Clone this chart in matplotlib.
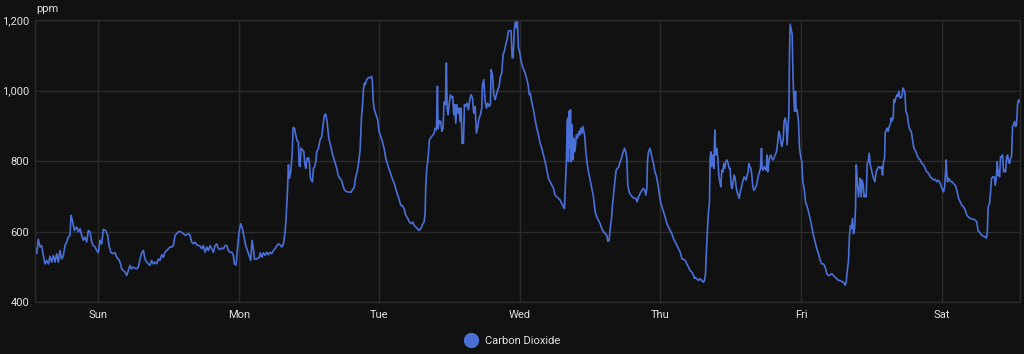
import matplotlib
matplotlib.use("Agg")
import matplotlib.pyplot as plt

# hours since Sunday 00:00, CO2 in ppm
hours = [
    -10.82, -10.53, -10.25, -9.97, -9.68, -9.40, -9.11, -8.83, -8.54, -8.26,
    -7.97, -7.69, -7.40, -7.12, -6.83, -6.55, -6.27, -5.98, -5.70, -5.41,
    -5.13, -4.84, -4.67, -4.44, -4.10, -3.70, -3.42, -3.13, -2.85, -2.56,
    -2.28, -1.99, -1.71, -1.42, -1.14, -0.86, -0.57, -0.29, 0.00, 0.28,
    0.57, 0.85, 1.25, 1.59, 1.82, 2.16, 2.56, 2.85, 3.13, 3.42,
    3.70, 3.99, 4.27, 4.56, 4.84, 5.12, 5.41, 5.69, 5.98, 6.26,
    6.55, 6.83, 7.12, 7.40, 7.69, 7.97, 8.26, 8.54, 8.82, 9.11,
    9.39, 9.68, 9.96, 10.25, 10.53, 10.82, 11.10, 11.39, 11.67, 11.96,
    12.24, 12.53, 12.81, 13.10, 13.38, 13.67, 13.95, 14.23, 14.52, 14.80,
    15.09, 15.37, 15.66, 15.94, 16.23, 16.51, 16.80, 17.08, 17.37,
    # Sun evening / Mon
    17.65, 17.94, 18.22, 18.51, 18.79, 19.08, 19.36, 19.65, 19.93, 20.22,
    20.50, 20.79, 21.07, 21.36, 21.64, 21.93, 22.21, 22.49, 22.78, 23.06,
    23.23, 23.52, 23.75, 24.03, 24.32, 24.60, 24.89, 25.17, 25.46, 25.74,
    26.03, 26.25, 26.48, 26.65, 27.05, 27.50, 27.62, 27.90, 28.19, 28.47,
    28.76, 29.04, 29.33, 29.61, 29.90, 30.18, 30.47, 30.75, 31.04, 31.32,
    31.61, 31.89, 32.06, 32.29, 32.46, 32.63, 32.86, 33.09, 33.26, 33.49,
    33.71, 33.94, 34.17, 34.28, 34.45, 34.62, 34.85, 35.08, 35.25, 35.42,
    35.65, 35.88, 36.05, 36.22, 36.39, 36.56, 36.73, 36.96, 37.13, 37.30,
    37.58, 37.87, 38.15, 38.38, 38.61, 38.84, 39.06, 39.35, 39.69, 40.03,
    40.37, 40.72, 40.94, 41.17, 41.51, 41.74, 41.97, 42.25, 42.71, 43.11,
    43.33, 43.68, 43.90, 44.19, 44.47, 44.70, 44.93, 45.10, 45.27, 45.44,
    # Tue
    45.55, 45.83, 46.12, 46.40, 46.69, 46.80, 46.92, 47.14, 47.43, 47.71,
    47.94, 48.23, 48.51, 48.80, 49.08, 49.42, 49.71, 49.99, 50.28, 50.56,
    50.85, 51.13, 51.41, 51.64, 51.93, 52.21, 52.50, 52.84, 53.12, 53.41,
    53.69, 53.92, 54.20, 54.49, 54.77, 55.06, 55.34, 55.63, 55.80, 55.91,
    56.08, 56.25, 56.37, 56.54, 56.77, 57.05, 57.34, 57.51, 57.74, 57.91,
    58.02, 58.25, 58.48, 58.65, 58.87, 59.04, 59.27, 59.44, 59.56, 59.73,
    59.90, 60.13, 60.35, 60.52, 60.70, 60.87, 61.04, 61.21, 61.44, 61.61,
    61.78, 61.95, 62.12, 62.35, 62.52, 62.75, 62.97, 63.20, 63.43, 63.66,
    63.88, 64.11, 64.34, 64.57, 64.80, 65.02, 65.25, 65.48, 65.59, 65.82,
    66.05, 66.28, 66.50, 66.73, 66.96, 67.07, 67.30, 67.53, 67.76, 67.98,
    68.21, 68.44, 68.67, 68.90, 69.12, 69.35, 69.58, 69.81, 70.03, 70.26,
    70.49, 70.66, 70.83, 71.06, 71.23, 71.40, 71.57, 71.74, 71.97, 72.20,
    72.42, 72.65, 72.88, 73.11, 73.34, 73.62,
    # Wed
    73.74, 74.02, 74.31, 74.59, 74.88, 75.16, 75.45, 75.73, 76.02, 76.30,
    76.59, 76.87, 77.16, 77.44, 77.73, 78.01, 78.30, 78.58, 78.86, 79.15,
    79.43, 79.60, 79.78, 79.95, 80.06, 80.17, 80.29, 80.40, 80.52, 80.63,
    80.74, 80.86, 80.97, 81.08, 81.20, 81.31, 81.48, 81.65, 81.83, 82.05,
    82.22, 82.39, 82.57, 82.74, 82.91, 83.08, 83.25, 83.48, 83.70, 83.99,
    84.27, 84.56, 84.84, 85.13, 85.41, 85.70, 85.98, 86.27, 86.55, 86.84,
    87.01, 87.23, 87.41, 87.63, 87.80, 87.97, 88.20, 88.43, 88.66, 88.89,
    89.11, 89.34, 89.57, 89.85, 90.08, 90.25, 90.42, 90.65, 90.94, 91.22,
    91.51, 91.79, 92.02, 92.25, 92.53, 92.82, 93.10, 93.33, 93.50, 93.67,
    93.78, 93.95, 94.18, 94.35, 94.58, 94.81, 95.04, 95.26, 95.49, 95.72,
    95.95, 96.23, 96.52, 96.80, 97.09, 97.37, 97.65, 97.94, 98.22, 98.51,
    98.79, 99.08, 99.36, 99.65, 99.93, 100.22, 100.50, 100.79, 101.07, 101.36,
    101.64, 101.81,
    # Thu
    101.92, 102.20, 102.49, 102.77, 103.06, 103.34, 103.51, 103.69, 103.86, 104.03,
    104.20, 104.37, 104.48, 104.60, 104.77, 104.94, 105.11, 105.28, 105.45, 105.62,
    105.79, 105.96, 106.13, 106.30, 106.48, 106.65, 106.82, 106.99, 107.16, 107.33,
    107.56, 107.73, 107.90, 108.07, 108.24, 108.41, 108.58, 108.75, 108.92, 109.09,
    109.27, 109.44, 109.61, 109.78, 109.95, 110.12, 110.29, 110.46, 110.63, 110.80,
    110.97, 111.09, 111.26, 111.43, 111.60, 111.77, 111.94, 112.17, 112.40, 112.57,
    112.74, 112.91, 113.08, 113.25, 113.36, 113.54, 113.71, 113.88, 114.05, 114.22,
    114.33, 114.50, 114.67, 114.85, 115.02, 115.19, 115.36, 115.59, 115.81, 116.04,
    116.21, 116.38, 116.55, 116.72, 116.95, 117.12, 117.29, 117.46, 117.63, 117.81,
    117.92, 118.03, 118.15, 118.32, 118.49, 118.60, 118.72, 118.89, 119.06, 119.17,
    119.34, 119.57, 119.74, 119.91, 120.14, 120.31, 120.54, 120.77, 120.99, 121.28,
    121.56, 121.85, 122.13, 122.42, 122.70, 122.99, 123.27, 123.56, 123.84, 124.13,
    124.41, 124.70, 124.98, 125.27, 125.55, 125.84, 126.12, 126.40, 126.69, 126.97,
    127.26, 127.54, 127.71, 127.88, 128.11, 128.28, 128.45, 128.62, 128.79, 128.97,
    129.14, 129.31, 129.42, 129.54, 129.65, 129.82, 129.99,
    # Fri / Sat
    130.11, 130.28, 130.45, 130.62, 130.79, 130.96, 131.13, 131.31, 131.48, 131.65,
    131.82, 131.99, 132.16, 132.39, 132.62, 132.84, 133.07, 133.30, 133.53, 133.75,
    133.92, 134.10, 134.27, 134.38, 134.55, 134.72, 134.89, 135.06, 135.23, 135.41,
    135.58, 135.75, 135.86, 136.03, 136.20, 136.37, 136.54, 136.71, 136.89, 137.06,
    137.23, 137.40, 137.57, 137.74, 137.91, 138.14, 138.37, 138.59, 138.82, 139.05,
    139.28, 139.51, 139.79, 140.07, 140.36, 140.64, 140.93, 141.21, 141.50, 141.78,
    142.07, 142.35, 142.64, 142.92, 143.21, 143.49, 143.78, 144.06, 144.35, 144.52,
    144.69, 144.80, 144.91, 145.03, 145.20, 145.37, 145.60, 145.83, 146.05, 146.34,
    146.62, 146.91, 147.19, 147.48, 147.76, 148.05, 148.33, 148.62, 148.90, 149.19,
    149.47, 149.75, 150.04, 150.21, 150.44, 150.67, 150.89, 151.18, 151.46, 151.63,
    151.80, 151.97, 152.20, 152.37, 152.54, 152.77, 153.00, 153.17, 153.34, 153.51,
    153.63, 153.74, 153.91, 154.08, 154.25, 154.42, 154.59, 154.76, 154.94, 155.11,
    155.28, 155.45, 155.62, 155.79, 155.96, 156.13, 156.30, 156.47, 156.64, 156.81,
    156.98, 157.16, 157.27,
]

co2_ppm = [
    560, 537, 578, 556, 560, 532, 508, 518, 508, 530,
    513, 532, 513, 537, 513, 546, 522, 532, 560, 570,
    584, 589, 646, 632, 603, 613, 599, 608, 589, 575,
    584, 570, 603, 599, 570, 560, 556, 546, 540, 575,
    565, 606, 603, 589, 560, 540, 537, 540, 527, 522,
    513, 494, 489, 485, 475, 489, 504, 494, 499, 496,
    494, 499, 522, 540, 546, 522, 513, 508, 504, 518,
    508, 513, 508, 522, 518, 534, 527, 542, 546, 551,
    556, 556, 560, 589, 594, 599, 600, 597, 594, 589,
    591, 594, 589, 570, 565, 570, 562, 560, 559,
    551, 560, 541, 556, 546, 560, 551, 541, 560, 565,
    551, 549, 553, 551, 560, 560, 546, 541, 541, 532,
    508, 505, 551, 599, 622, 608, 584, 560, 546, 532,
    518, 575, 551, 522, 522, 527, 540, 527, 540, 532,
    541, 534, 541, 537, 546, 551, 559, 565, 562, 556,
    565, 599, 637, 712, 789, 751, 770, 817, 895, 893,
    874, 857, 855, 789, 784, 836, 831, 828, 793, 779,
    808, 809, 793, 751, 746, 741, 779, 784, 798, 826,
    836, 860, 869, 903, 931, 933, 912, 865, 841, 817,
    798, 779, 760, 752, 746, 733, 720, 714, 712, 711,
    717, 724, 751, 768, 798, 831, 922, 955, 1002, 1021,
    1016, 1031, 1037, 1036, 1040, 1026, 974, 945, 931, 917,
    884, 869, 855, 836, 808, 789, 774, 760, 746, 736,
    717, 703, 689, 674, 673, 665, 646, 637, 627, 622,
    627, 618, 613, 608, 603, 608, 619, 627, 651, 722,
    779, 798, 822, 860, 866, 872, 879, 893, 888, 1012,
    893, 914, 912, 884, 893, 967, 960, 1078, 950, 931,
    960, 988, 979, 983, 931, 960, 907, 960, 936, 950,
    912, 950, 850, 850, 960, 955, 964, 945, 974, 988,
    979, 936, 955, 879, 898, 922, 931, 950, 1016, 1031,
    969, 950, 964, 955, 960, 1059, 1045, 988, 974, 988,
    1002, 1012, 1040, 1050, 1102, 1112, 1131, 1145, 1169, 1170,
    1169, 1093, 1093, 1178, 1195, 1178, 1195, 1121, 1107, 1083,
    1069, 1059, 1050, 1036, 1021, 988,
    993, 967, 945, 917, 893, 874, 850, 836, 817, 798,
    774, 751, 741, 731, 722, 703, 698, 694, 689, 679,
    670, 665, 741, 808, 912, 922, 798, 941, 836, 945,
    798, 903, 826, 803, 865, 826, 841, 874, 865, 884,
    874, 893, 879, 898, 884, 869, 826, 793, 769, 746,
    722, 698, 656, 641, 632, 622, 608, 599, 594, 589,
    572, 575, 608, 637, 674, 703, 741, 774, 779, 784,
    798, 808, 822, 836, 826, 808, 731, 712, 703, 698,
    694, 694, 684, 698, 708, 717, 722, 717, 703, 722,
    798, 826, 836, 826, 808, 793, 769, 760, 741, 717,
    689, 670, 656, 641, 622, 613, 603, 594, 580, 570,
    561, 551, 542, 523, 521, 518, 508, 499, 489, 485,
    475, 467,
    470, 466, 461, 466, 461, 456, 461, 480, 551, 608,
    656, 684, 808, 826, 784, 817, 779, 888, 817, 836,
    808, 760, 741, 727, 774, 769, 793, 779, 798, 803,
    793, 779, 779, 731, 722, 741, 760, 751, 727, 712,
    703, 694, 712, 722, 736, 746, 755, 751, 746, 760,
    769, 793, 784, 779, 760, 727, 717, 722, 731, 746,
    760, 769, 779, 836, 779, 774, 784, 779, 774, 817,
    769, 798, 812, 817, 808, 803, 808, 817, 826, 855,
    884, 874, 855, 841, 860, 912, 922, 907, 846, 903,
    931, 1102, 1188, 1173, 1159, 1064, 998, 941, 998, 941,
    945, 912, 836, 817, 798, 741, 722, 684, 674, 656,
    637, 613, 589, 570, 551, 537, 518, 508, 508, 499,
    480, 475, 477, 480, 475, 470, 466, 461, 461, 458,
    456, 448, 456, 485, 518, 589, 617, 608, 637, 594,
    608, 665, 789, 770, 731, 698, 727,
    751, 698, 746, 731, 698, 703, 698, 793, 798, 822,
    789, 779, 765, 751, 741, 769, 779, 784, 779, 784,
    760, 798, 808, 879, 888, 893, 884, 898, 903, 922,
    914, 922, 974, 967, 979, 988, 983, 998, 979, 979,
    983, 1007, 1002, 993, 941, 931, 903, 888, 884, 860,
    836, 831, 817, 808, 803, 793, 789, 779, 769, 765,
    755, 751, 746, 748, 741, 746, 736, 722, 712, 727,
    769, 803, 760, 741, 751, 746, 741, 741, 736, 731,
    717, 694, 684, 674, 670, 660, 646, 641, 637, 635,
    635, 632, 627, 603, 599, 594, 589, 587, 584, 581,
    594, 670, 679, 712, 751, 755, 755, 731, 751, 798,
    760, 774, 755, 812, 812, 817, 769, 774, 769, 812,
    817, 798, 793, 808, 812, 898, 903, 912, 898, 903,
    960, 974, 967,
]

day_ticks = [0, 24, 48, 72, 96, 120, 144]
day_labels = ["Sun", "Mon", "Tue", "Wed", "Thu", "Fri", "Sat"]
y_ticks = [400, 600, 800, 1000, 1200]

bg = "#111111"
grid_c = "#2b2b2b"
text_c = "#e1e1e1"
line_c = "#4a70d8"

plt.rcParams["font.family"] = ["Roboto", "DejaVu Sans"]

fig = plt.figure(figsize=(10.24, 3.54), dpi=100, facecolor=bg)
ax = fig.add_axes([35 / 1024, 1 - 302 / 354, 985 / 1024, 282 / 354])
ax.set_facecolor(bg)

ax.plot(hours, co2_ppm, color=line_c, lw=1.2, label="Carbon Dioxide")

ax.set_xlim(-10.82, 157.4)
ax.set_ylim(400, 1200)
ax.set_xticks(day_ticks)
ax.set_xticklabels(day_labels)
ax.set_yticks(y_ticks)
ax.set_yticklabels([f"{v:,}" for v in y_ticks])
ax.tick_params(length=0, colors=text_c, labelsize=8)
ax.tick_params(axis="x", pad=6)
ax.tick_params(axis="y", pad=4)
ax.grid(True, color=grid_c, lw=1)
for s in ax.spines.values():
    s.set_color(grid_c)
    s.set_linewidth(1)

fig.text(36 / 1024, 1 - 9 / 354, "ppm", color=text_c, fontsize=8, va="center", ha="left")

leg = fig.legend(handles=[plt.Line2D([], [], marker="o", ls="none", color=line_c, markersize=10)],
                 labels=["Carbon Dioxide"], loc="center", bbox_to_anchor=(510 / 1024, 1 - 341 / 354),
                 frameon=False, handletextpad=0.2, fontsize=8, labelcolor=text_c)

fig.savefig("out.png", facecolor=bg)
